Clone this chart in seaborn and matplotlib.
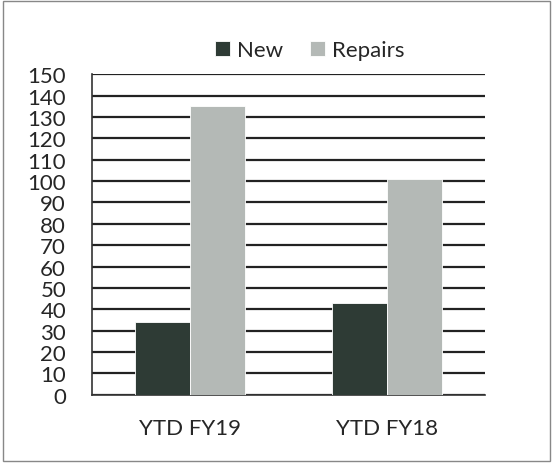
import pandas as pd
import matplotlib.pyplot as plt
import seaborn as sns

# Values
categories = ["YTD FY19", "YTD FY18"]
new_vals = [34, 43]
repair_vals = [135, 101]
series = ["New", "Repairs"]
colors = ["#2e3b35", "#b4b9b6"]

df = pd.DataFrame({
    "period": categories * 2,
    "count": new_vals + repair_vals,
    "type": ["New"] * 2 + ["Repairs"] * 2,
})

sns.set_style("white")
plt.rcParams["font.family"] = ["Lato", "DejaVu Sans"]

fig = plt.figure(figsize=(5.53, 4.64), dpi=100)
ax = fig.add_axes([0.166, 0.147, 0.711, 0.691])

sns.barplot(data=df, x="period", y="count", hue="type", hue_order=series,
            palette=colors, width=0.56, gap=0, saturation=1, ax=ax, zorder=3,
            edgecolor="white", linewidth=0.6)

ax.set_ylim(0, 150)
ax.set_yticks(range(0, 151, 10))
ax.set_xlim(-0.5, 1.5)
ax.yaxis.grid(True, color="#222222", linewidth=1.6, zorder=0)
ax.set_axisbelow(True)
ax.set_xlabel("")
ax.set_ylabel("")

for s in ["top", "right"]:
    ax.spines[s].set_visible(False)
ax.spines["left"].set_color("#333333")
ax.spines["bottom"].set_color("#333333")
ax.spines["left"].set_linewidth(1.2)
ax.spines["bottom"].set_linewidth(1.2)

ax.tick_params(axis="y", direction="out", length=6.5, width=1.4, color="#222222",
               labelsize=16, pad=12)
ax.set_xticks([0, 1])
ax.set_xticklabels(categories)
ax.set_xticks([-0.5, 0.5, 1.5], minor=True)
ax.tick_params(axis="x", which="major", length=0, labelsize=16, pad=17)
ax.tick_params(axis="x", which="minor", direction="out", length=7, width=1.2, color="#333333")

handles, labels = ax.get_legend_handles_labels()
ax.legend(handles, labels, loc="lower center", bbox_to_anchor=(0.555, 1.015), ncol=2,
          frameon=False, fontsize=16, handlelength=0.65, handleheight=0.65,
          handletextpad=0.35, columnspacing=1.2, borderaxespad=0)

# thin frame around the whole figure
fig.patches.append(plt.Rectangle((0.005, 0.005), 0.99, 0.99, transform=fig.transFigure,
                                 fill=False, edgecolor="#888888", linewidth=1))

fig.savefig("out.png", dpi=100)
